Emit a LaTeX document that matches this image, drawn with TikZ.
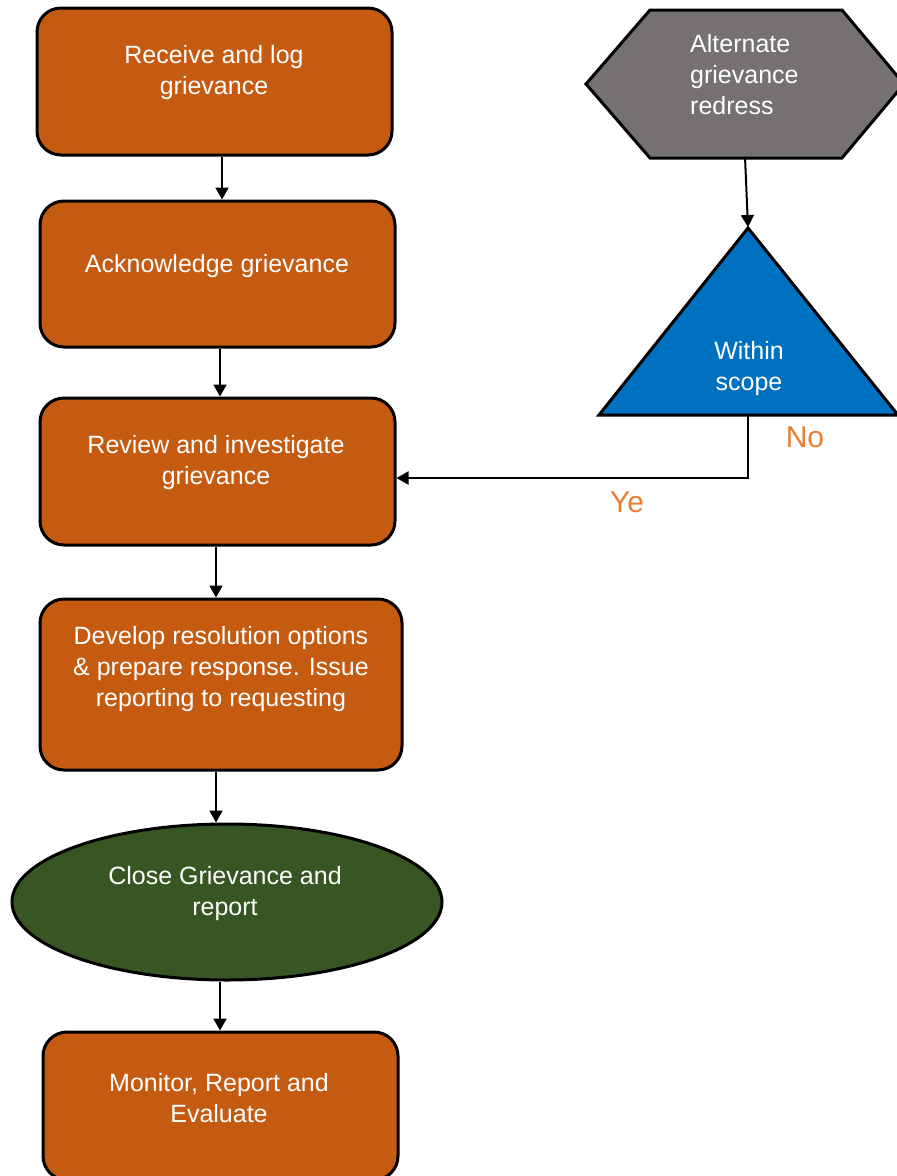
\documentclass[tikz,border=0pt]{standalone}
\usepackage{fontspec}
\setmainfont{Liberation Sans}
\usetikzlibrary{shapes.geometric,arrows.meta}
\definecolor{boxorange}{HTML}{C55A11}
\definecolor{hexgray}{HTML}{767171}
\definecolor{triblue}{HTML}{0070C0}
\definecolor{ellgreen}{HTML}{375623}
\definecolor{lblorange}{HTML}{ED7D31}
\tikzset{
  stepbox/.style={draw=black, line width=3pt, fill=boxorange, rounded corners=24pt, minimum width=355pt, inner sep=0pt},
  steptext/.style={text=white, font=\fontsize{25}{31}\selectfont, align=center, inner sep=0pt},
  arr/.style={line width=2pt, -{Triangle[length=12pt,width=13pt]}},
  lbl/.style={text=lblorange, font=\fontsize{30}{36}\selectfont, inner sep=0pt}
}
\begin{document}
\begin{tikzpicture}[x=1pt,y=-1pt]
\useasboundingbox (0,0) rectangle (897,1176);

% left column boxes
\node[stepbox, minimum height=147pt] (receive) at (214.5,81.5) {};
\node[steptext] (receivet) at (214,73) {Receive and log\\grievance};

\node[stepbox, minimum height=146pt] (ack) at (217.5,274) {};
\node[steptext] (ackt) at (217,266) {Acknowledge grievance};

\node[stepbox, minimum height=147pt] (review) at (217.5,471.5) {};
\node[steptext] (reviewt) at (216,463) {Review and investigate\\grievance};

\node[stepbox, minimum width=362pt, minimum height=171pt] (develop) at (221,684.5) {};
\node[steptext] (developt) at (221,669) {Develop resolution options\\\& prepare response. Issue\\reporting to requesting};

\node[ellipse, draw=black, line width=3pt, fill=ellgreen, minimum width=430pt, minimum height=156pt, inner sep=0pt] (close) at (227,902) {};
\node[steptext] (closet) at (225,894) {Close Grievance and\\report};

\node[stepbox, minimum height=148pt] (monitor) at (220.5,1106) {};
\node[steptext] (monitort) at (219,1098) {Monitor, Report and\\Evaluate};

% hexagon
\draw[line width=3pt, fill=hexgray, line join=miter]
  (586,84) -- (650,10) -- (842,10) -- (904,84) -- (842,158) -- (650,158) -- cycle;
\coordinate (hexb) at (745,157);
\node[steptext, align=left, anchor=west] (hext) at (690,75) {Alternate\\grievance\\redress};

% triangle
\draw[line width=3pt, fill=triblue, line join=miter]
  (599,415) -- (748,228) -- (898,415) -- cycle;
\coordinate (tritop) at (748,227);
\coordinate (tribot) at (748,416);
\node[steptext] (trit) at (749,369) {Within\\scope};

% connectors
\draw[arr] ([xshift=7.5pt]receive.south) -- ([xshift=7.5pt]receive.south |- ack.north);
\draw[arr] ([xshift=2.5pt]ack.south) -- ([xshift=2.5pt]ack.south |- review.north);
\draw[arr] ([xshift=-1.5pt]review.south) -- ([xshift=-1.5pt]review.south |- develop.north);
\draw[arr] ([xshift=-5pt]develop.south) -- ([xshift=-5pt]develop.south |- close.north);
\draw[arr] ([xshift=-7pt]close.south) -- ([xshift=-7pt]close.south |- monitor.north);
\draw[arr] (hexb) -- (tritop);
\draw[arr] (tribot) |- ([yshift=-6.5pt]review.east);

\node[lbl] (no) at (805,437) {No};
\node[lbl] (ye) at (627,502) {Ye};
\end{tikzpicture}
\end{document}
